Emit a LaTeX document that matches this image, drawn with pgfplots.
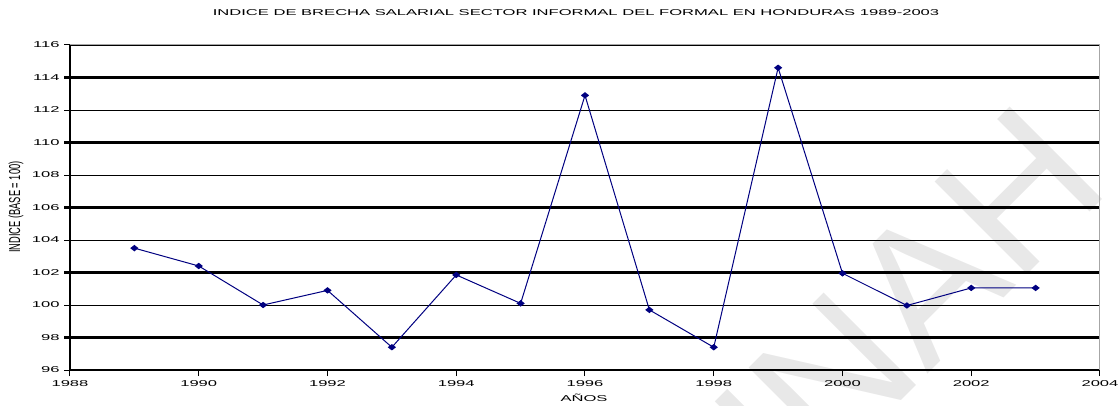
\documentclass[border=0pt]{standalone}
\usepackage{fontspec}
\usepackage{pgfplots}
\pgfplotsset{compat=1.18}
\setmainfont{Liberation Sans}
\newfontfamily\wide[FakeStretch=1.95]{Liberation Sans}
\definecolor{navy}{RGB}{0,0,128}
\begin{document}
\begin{tikzpicture}[x=1pt,y=1pt]
\path[use as bounding box] (-70,-35) rectangle (1048,370);
\begin{scope}
\clip (-70,-35) rectangle (1048,370);
\node[rotate=45, text=gray!18, font=\fontsize{190}{190}\selectfont, inner sep=0pt] at (808,37) {UNAH};
\end{scope}
\begin{axis}[
  at={(0,0)}, anchor=south west,
  scale only axis, width=1030pt, height=325pt,
  xmin=1988, xmax=2004, ymin=96, ymax=116,
  xtick={1988,1990,...,2004},
  xticklabels={1988,1990,1992,1994,1996,1998,2000,2002,2004},
  ytick={96,100,...,116},
  yticklabels={96,100,104,108,112,116},
  extra y ticks={98,102,...,114},
  extra y tick labels={98,102,106,110,114},
  ymajorgrids,
  grid style={black, line width=0.9pt},
  extra y tick style={grid style={black, line width=2.4pt}, tick style={black, line width=2.2pt}},
  axis x line*=bottom, axis y line*=left,
  axis line style={black, line width=2.2pt},
  tick style={black, line width=1pt},
  major tick length=6pt, tick align=outside,
  tick label style={font=\wide\fontsize{8.5}{10}\selectfont, text=black},
  xticklabel style={yshift=-1pt},
  yticklabel style={xshift=-1pt},
  clip=false,
]
\addplot[navy, line width=1pt, mark=diamond*, mark size=2.6pt, mark options={fill=navy, solid, xscale=1.7}]
coordinates {
(1989,103.5) (1990,102.4) (1991,100.0) (1992,100.9) (1993,97.4)
(1994,101.85) (1995,100.1) (1996,112.9) (1997,99.7) (1998,97.4)
(1999,114.6) (2000,101.95) (2001,99.97) (2002,101.05) (2003,101.05)
};
\draw[gray!70, line width=1pt] (rel axis cs:0,1) -- (rel axis cs:1,1) -- (rel axis cs:1,0);
\end{axis}
\node[font=\wide\fontsize{8.5}{10}\selectfont, text=black] at (506,357) {INDICE DE BRECHA SALARIAL SECTOR INFORMAL DEL FORMAL EN HONDURAS 1989-2003};
\node[font=\wide\fontsize{8.5}{10}\selectfont, text=black] at (514,-28) {AÑOS};
\node[rotate=90, font=\fontsize{9.3}{10}\selectfont, text=black] at (-54,163) {\scalebox{1}[1.7]{INDICE (BASE = 100)}};
\end{tikzpicture}
\end{document}
